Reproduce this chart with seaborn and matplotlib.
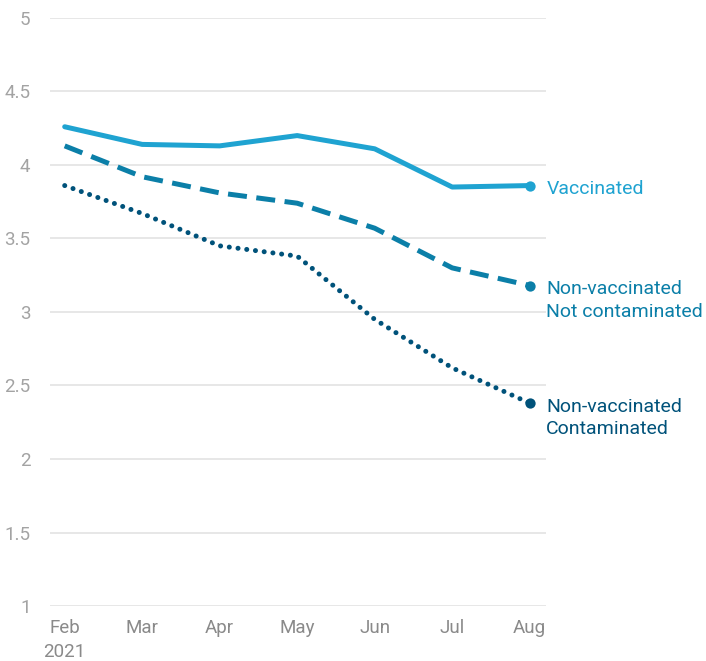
import pandas as pd
import seaborn as sns
import matplotlib.pyplot as plt

months = ['Feb', 'Mar', 'Apr', 'May', 'Jun', 'Jul', 'Aug']
vaccinated = [4.26, 4.14, 4.13, 4.20, 4.11, 3.85, 3.86]
not_contaminated = [4.13, 3.92, 3.81, 3.74, 3.57, 3.30, 3.18]
contaminated = [3.86, 3.67, 3.45, 3.38, 2.95, 2.62, 2.38]
series_names = ['Vaccinated', 'Non-vaccinated\nNot contaminated', 'Non-vaccinated\nContaminated']
colors = ['#1fa3d1', '#0b7fa8', '#00527a']
y_ticks = [1, 1.5, 2, 2.5, 3, 3.5, 4, 4.5, 5]
tick_labels = ['Feb\n2021', 'Mar', 'Apr', 'May', 'Jun', 'Jul', 'Aug']

sns.set_style('white')
plt.rcParams['font.family'] = ['Roboto', 'DejaVu Sans']

fig = plt.figure(figsize=(7.06, 6.61), dpi=100)
ax = fig.add_axes([0.0708, 0.0832, 0.7025, 0.8896])

x = list(range(len(months)))
all_series = [vaccinated, not_contaminated, contaminated]
styles = [
    dict(linestyle='-', linewidth=3.6),
    dict(linestyle=(0, (3.8, 1.9)), linewidth=3.6, dash_capstyle='butt'),
    dict(linestyle=(0, (0.01, 1.75)), linewidth=3.6, dash_capstyle='round'),
]

for vals, col, st in zip(all_series, colors, styles):
    df = pd.DataFrame({'x': x, 'y': vals})
    sns.lineplot(data=df, x='x', y='y', color=col, ax=ax, **st)
    ax.scatter([x[-1]], [vals[-1]], s=55, color=col, zorder=5, clip_on=False, linewidths=0)

# labels at the end of each line
for vals, name, col in zip(all_series, series_names, colors):
    ax.annotate(name, xy=(x[-1], vals[-1]), xytext=(12, 4), textcoords='offset points',
                color=col, fontsize=14, va='top', ha='left', linespacing=1.35,
                annotation_clip=False)

ax.set_xlim(-0.19, 6.21)
ax.set_ylim(1, 5)
ax.set_yticks(y_ticks)
ax.set_yticklabels([f'{t:g}' for t in y_ticks])
ax.set_xticks(x)
ax.set_xticklabels(tick_labels, ha='center', linespacing=1.45)
ax.grid(axis='y', color='#e3e3e3', linewidth=1.2)
ax.set_axisbelow(True)
for s in ax.spines.values():
    s.set_visible(False)
ax.tick_params(axis='both', length=0, labelsize=13.5)
ax.tick_params(axis='y', pad=14, labelcolor='#a3a3a3')
ax.tick_params(axis='x', pad=9, labelcolor='#8a8a8a')
ax.set_xlabel('')
ax.set_ylabel('')

fig.savefig('out.png', dpi=100)
